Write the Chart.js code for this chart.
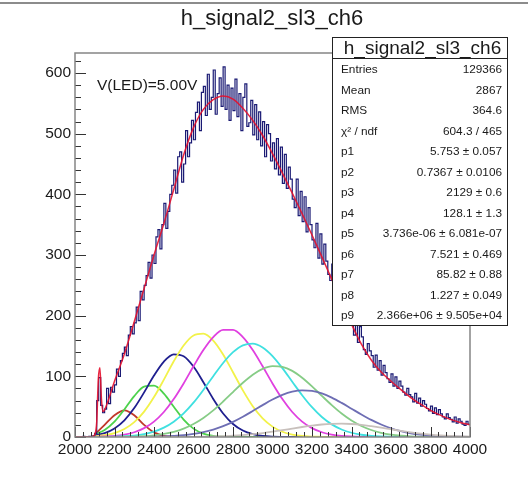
<!DOCTYPE html>
<html>
<head>
<meta charset="utf-8">
<script src="https://cdn.jsdelivr.net/npm/chart.js@4.4.1/dist/chart.umd.min.js"></script>
<style>
  html, body { margin: 0; padding: 0; background: #fff; }
  #wrap { width: 528px; height: 479px; }
</style>
</head>
<body>
<div id="wrap"><canvas id="chart-hist" width="528" height="479"></canvas></div>
<script>
// histogram: 10-unit bins starting at 2000
var histStart = 2000;
var binWidth = 10;
var histCounts = [
  0, 0, 0, 0, 1, 0, 0, 1, 0, 2,
  6, 60, 98, 52, 40, 46, 80, 55, 82, 74,
  86, 112, 100, 126, 138, 148, 134, 168, 182, 170,
  188, 214, 192, 240, 226, 250, 266, 288, 262, 300,
  286, 330, 342, 310, 350, 385, 344, 372, 400, 415,
  440, 402, 462, 470, 420, 450, 505, 462, 485, 522,
  490, 535, 552, 505, 568, 578, 530, 598, 540, 560,
  605, 532, 566, 592, 545, 610, 540, 580, 522, 575,
  538, 590, 528, 566, 505, 560, 582, 512, 518, 555,
  498, 548, 490, 536, 480, 520, 462, 515, 500, 455,
  485, 442, 492, 432, 478, 418, 466, 410, 445, 425,
  392, 378, 425, 365, 405, 355, 396, 338, 378, 350,
  325, 312, 352, 295, 335, 285, 318, 290, 268, 258,
  285, 240, 272, 226, 255, 232, 212, 200, 228, 186,
  210, 168, 198, 156, 182, 165, 144, 136, 154, 142,
  134, 115, 135, 110, 126, 102, 118, 106, 96, 90,
  104, 84, 99, 80, 92, 84, 74, 69, 80, 70,
  66, 58, 72, 56, 64, 51, 60, 54, 47, 43,
  51, 39, 48, 37, 45, 38, 33, 30, 38, 32,
  29, 25, 33, 23, 30, 26, 21, 19, 26, 21
];

// total fit
var fitX = [2000, 2050, 2090, 2100, 2110, 2118, 2126, 2134, 2142, 2150,
  2200, 2250, 2300, 2350, 2400, 2450, 2500, 2550, 2600, 2650, 2700, 2750,
  2800, 2850, 2900, 2950, 3000, 3050, 3100, 3150, 3200, 3250, 3300, 3350,
  3400, 3450, 3500, 3550, 3600, 3650, 3700, 3750, 3800, 3850, 3900, 3950, 4000];
var fitY = [0, 0, 1, 4, 25, 95, 114, 62, 42, 45,
  92, 137, 190, 245, 300, 352, 408, 465, 510, 540, 556, 562,
  557, 542, 522, 497, 467, 435, 402, 368, 333, 297, 260, 222,
  186, 153, 127, 107, 92, 78, 65, 54, 44, 36, 29, 24, 20];

// photoelectron components
var compX = [2100, 2150, 2200, 2250, 2300, 2350, 2400, 2450, 2500, 2550,
  2600, 2650, 2700, 2750, 2800, 2850, 2900, 2950, 3000, 3050,
  3100, 3150, 3200, 3250, 3300, 3350, 3400, 3450, 3500, 3550,
  3600, 3650, 3700, 3750, 3800, 3850, 3900, 3950, 4000];
var pe1 = [4, 20, 36, 44, 36, 20, 7.6, 1.9, 0.3, 0, 0, 0, 0, 0, 0, 0, 0, 0, 0, 0,
  0, 0, 0, 0, 0, 0, 0, 0, 0, 0, 0, 0, 0, 0, 0, 0, 0, 0, 0];
var pe2 = [4.4, 11.6, 25.3, 45.4, 67.5, 83, 84.7, 71.5, 49.9, 28.8, 13.8, 5.5, 1.8, 0.5, 0.1, 0, 0, 0, 0, 0,
  0, 0, 0, 0, 0, 0, 0, 0, 0, 0, 0, 0, 0, 0, 0, 0, 0, 0, 0];
var pe3 = [2.7, 6.5, 14.2, 27.6, 47.7, 73.6, 101.3, 124.4, 136.3, 133.2, 116.2, 90.4, 62.7, 38.8, 21.5, 10.6, 4.7, 1.8, 0.6, 0.2,
  0, 0, 0, 0, 0, 0, 0, 0, 0, 0, 0, 0, 0, 0, 0, 0, 0, 0, 0];
var pe4 = [1.2, 2.9, 6.5, 13.2, 24.6, 41.9, 65.8, 94.6, 124.8, 150.9, 167.4, 170.3, 159, 136.1, 106.8, 76.8, 50.7, 30.7, 17.1, 8.7,
  4.1, 1.7, 0.7, 0.3, 0, 0, 0, 0, 0, 0, 0, 0, 0, 0, 0, 0, 0, 0, 0];
var pe5 = [0.3, 0.8, 1.8, 3.9, 7.8, 14.6, 25.4, 41.2, 62.5, 88.3, 116.5, 143.3, 164.6, 176.5, 176.5, 164.6, 143.3, 116.5, 88.3, 62.5,
  41.2, 25.4, 14.6, 7.8, 3.9, 1.8, 0.8, 0.3, 0.1, 0, 0, 0, 0, 0, 0, 0, 0, 0, 0];
var pe6 = [0.1, 0.2, 0.5, 1.2, 2.4, 4.8, 8.9, 15.4, 25.2, 38.9, 56.6, 77.6, 100.2, 122, 139.8, 151.1, 153.8, 147.5, 133.3, 113.5,
  91.1, 68.9, 49.1, 32.9, 20.8, 12.4, 7, 3.7, 1.8, 0.8, 0.4, 0.2, 0.1, 0, 0, 0, 0, 0, 0];
var pe7 = [0, 0.1, 0.2, 0.4, 0.7, 1.5, 2.8, 5, 8.5, 13.8, 21.4, 31.4, 43.9, 58.5, 74.1, 89.4, 102.7, 112.2, 116.8, 115.6,
  109, 97.7, 83.5, 67.8, 52.5, 38.6, 27.1, 18.1, 11.5, 6.9, 4, 2.2, 1.1, 0.5, 0.2, 0.1, 0, 0, 0];
var pe8 = [0, 0, 0, 0.1, 0.1, 0.3, 0.5, 1, 1.8, 3, 5.1, 8.1, 12.3, 17.9, 25, 33.4, 42.8, 52.5, 61.7, 69.3,
  74.6, 76.9, 75.9, 71.8, 65, 56.3, 46.7, 37.1, 28.2, 20.6, 14.3, 9.6, 6.1, 3.8, 2.2, 1.2, 0.7, 0.4, 0.2];
var pe9 = [0, 0, 0, 0, 0, 0.1, 0.1, 0.1, 0.2, 0.2, 0.3, 0.5, 0.8, 1.4, 2.1, 3.2, 4.7, 6.5, 8.7, 11.2,
  13.9, 16.5, 18.8, 20.6, 21.7, 22, 21.4, 20, 17.9, 15.5, 12.8, 10.2, 7.8, 5.7, 4, 2.7, 1.8, 1.1, 0.7];

var compSeries = [pe1, pe2, pe3, pe4, pe5, pe6, pe7, pe8, pe9];
var compColors = ["#c0392b", "#4cd24c", "#1f1f8f", "#f2f24a", "#e040e0", "#3fe0e0", "#86cc86", "#6e6eb4", "#c8c0bc"];

var statLabels = ["Entries", "Mean", "RMS", "\u03c7\u00b2 / ndf", "p1", "p2", "p3", "p4", "p5", "p6", "p7", "p8", "p9"];
var statValues = ["129366", "2867", "364.6", "604.3 / 465", "5.753 \u00b1 0.057", "0.7367 \u00b1 0.0106",
  "2129 \u00b1 0.6", "128.1 \u00b1 1.3", "3.736e-06 \u00b1 6.081e-07", "7.521 \u00b1 0.469",
  "85.82 \u00b1 0.88", "1.227 \u00b1 0.049", "2.366e+06 \u00b1 9.505e+04"];
var histTitle = "h_signal2_sl3_ch6";
var ledLabel = "V(LED)=5.00V";

var FONT = "'Liberation Sans', Arial, sans-serif";

// build datasets
var histPoints = histCounts.map(function (c, i) { return { x: histStart + i * binWidth, y: c }; });
histPoints.push({ x: histStart + histCounts.length * binWidth, y: histCounts[histCounts.length - 1] });

var datasets = [];
datasets.push({
  label: "fit",
  data: fitX.map(function (x, i) { return { x: x, y: fitY[i] }; }),
  borderColor: "rgba(230,16,44,0.9)",
  borderWidth: 1.5,
  pointRadius: 0,
  cubicInterpolationMode: "monotone",
  order: 0,
});
datasets.push({
  label: "hist",
  data: histPoints,
  borderColor: "#1a1a74",
  borderWidth: 1.2,
  pointRadius: 0,
  stepped: true,
  order: 1,
});
compSeries.forEach(function (s, k) {
  datasets.push({
    label: "pe" + (k + 1),
    data: compX.map(function (x, i) { return { x: x, y: s[i] }; }),
    borderColor: compColors[k],
    borderWidth: 1.8,
    pointRadius: 0,
    cubicInterpolationMode: "monotone",
    order: 2 + (compSeries.length - k),
  });
});

// ROOT-like frame, inner ticks, title, stats box
var rootDecor = {
  id: "rootDecor",
  afterDatasetsDraw: function (chart) {
    var ctx = chart.ctx, a = chart.chartArea, xs = chart.scales.x, ys = chart.scales.y;
    ctx.save();
    ctx.strokeStyle = "#333";
    ctx.lineWidth = 1;
    ctx.beginPath();
    for (var v = xs.min; v <= xs.max; v += 40) {
      var px = Math.round(xs.getPixelForValue(v)) + 0.5;
      var len = v % 200 === 0 ? 10 : 5;
      ctx.moveTo(px, a.bottom);
      ctx.lineTo(px, a.bottom - len);
    }
    for (var w = 0; w <= ys.max; w += 20) {
      var py = Math.round(ys.getPixelForValue(w)) + 0.5;
      var l2 = w % 100 === 0 ? 11 : 6;
      ctx.moveTo(a.left, py);
      ctx.lineTo(a.left + l2, py);
    }
    ctx.stroke();
    ctx.strokeStyle = "#858585";
    ctx.lineWidth = 1.5;
    ctx.strokeRect(a.left, a.top, a.right - a.left, a.bottom - a.top);
    ctx.restore();
  },
  afterDraw: function (chart) {
    var ctx = chart.ctx;
    ctx.save();
    // top pad border
    ctx.strokeStyle = "#8c8c8c";
    ctx.lineWidth = 2;
    ctx.beginPath();
    ctx.moveTo(0, 3);
    ctx.lineTo(528, 3);
    ctx.stroke();

    ctx.fillStyle = "#1a1a1a";
    ctx.textBaseline = "middle";
    ctx.textAlign = "center";
    ctx.font = "22px " + FONT;
    ctx.fillText(histTitle, 272, 19);

    ctx.textAlign = "left";
    ctx.font = "15.5px " + FONT;
    ctx.fillText(ledLabel, 97, 86);

    // stats box
    var bx = 332, by = 37, bw = 175, bh = 288, hh = 21;
    ctx.fillStyle = "#fff";
    ctx.fillRect(bx, by, bw, bh);
    ctx.strokeStyle = "#222";
    ctx.lineWidth = 1;
    ctx.strokeRect(bx + 0.5, by + 0.5, bw, bh);
    ctx.beginPath();
    ctx.moveTo(bx, by + hh + 0.5);
    ctx.lineTo(bx + bw, by + hh + 0.5);
    ctx.stroke();

    ctx.fillStyle = "#1a1a1a";
    ctx.textAlign = "center";
    ctx.font = "19px " + FONT;
    ctx.fillText(histTitle, bx + bw / 2 + 3, by + hh / 2 + 1);

    ctx.font = "11.8px " + FONT;
    for (var i = 0; i < statLabels.length; i++) {
      var ry = 70 + i * 20.5;
      ctx.textAlign = "left";
      ctx.fillText(statLabels[i], 341, ry);
      ctx.textAlign = "right";
      ctx.fillText(statValues[i], 502, ry);
    }
    ctx.restore();
  },
};

var ctx1 = document.getElementById("chart-hist").getContext("2d");

new Chart(ctx1, {
  type: "line",
  data: { datasets: datasets },
  options: {
    responsive: false,
    animation: false,
    layout: { padding: { top: 53, right: 58, left: 0, bottom: 0 } },
    plugins: {
      legend: { display: false },
      tooltip: { enabled: false },
    },
    scales: {
      x: {
        type: "linear",
        min: 2000,
        max: 4000,
        afterFit: function (scale) { scale.height = 42; },
        grid: { display: false, drawTicks: false },
        border: { display: false },
        ticks: {
          stepSize: 200,
          autoSkip: false,
          maxRotation: 0,
          padding: 3,
          color: "#1a1a1a",
          font: { size: 15.5, family: FONT },
          callback: function (value) { return String(value); },
        },
      },
      y: {
        min: 0,
        max: 633,
        afterFit: function (scale) { scale.width = 75; },
        grid: { display: false, drawTicks: false },
        border: { display: false },
        ticks: {
          stepSize: 100,
          includeBounds: false,
          padding: 4,
          color: "#1a1a1a",
          font: { size: 15.5, family: FONT },
          callback: function (value) { return String(value); },
        },
      },
    },
  },
  plugins: [rootDecor],
});
</script>
</body>
</html>
